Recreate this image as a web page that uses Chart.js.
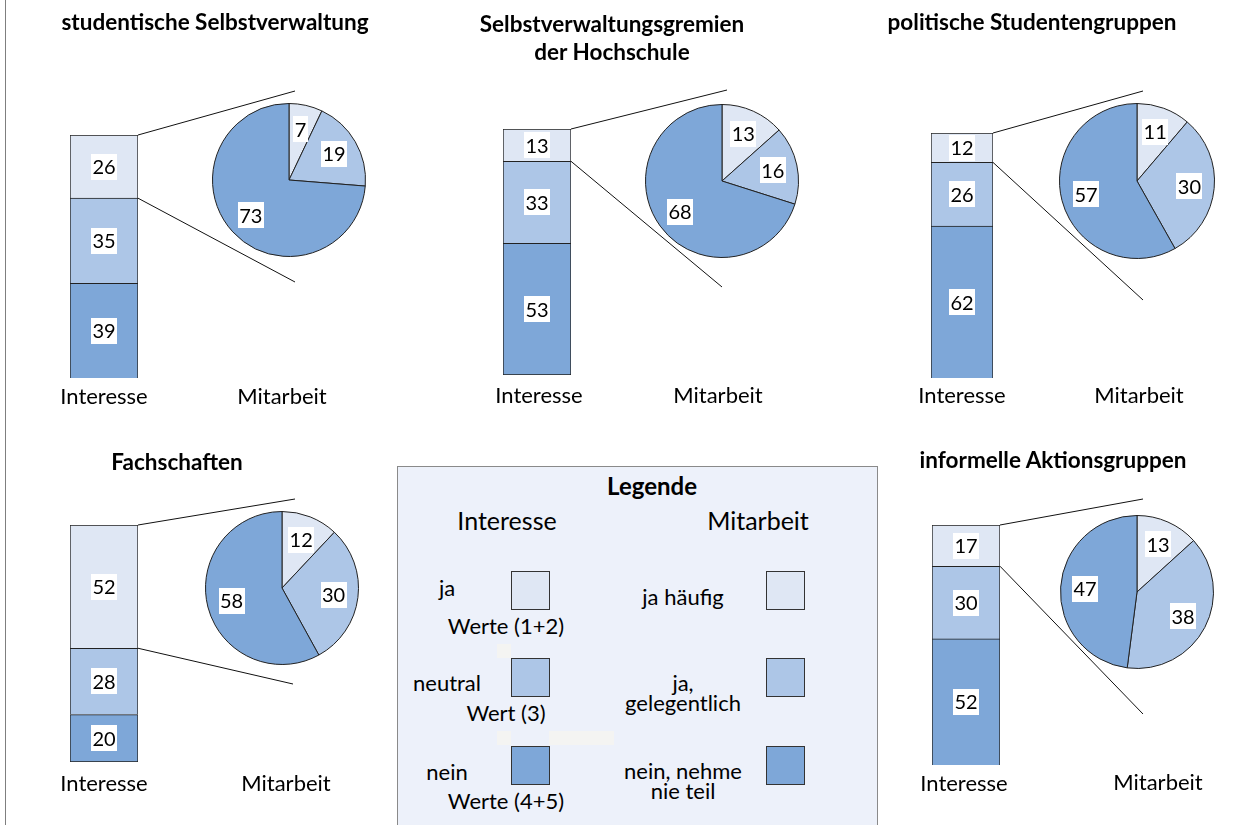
<!DOCTYPE html>
<html>
<head>
<meta charset="utf-8">
<script src="https://cdn.jsdelivr.net/npm/chart.js@4.4.0/dist/chart.umd.min.js"></script>
<style>
  body { margin: 0; width: 1259px; height: 825px; position: relative; background: #fff; overflow: hidden; font-family: Lato, sans-serif; color: #000; }
  canvas { position: absolute; }
  .txt { position: absolute; transform: translate(-50%, -50%); white-space: pre; line-height: 1.15; text-align: center; }
  .title { font-weight: bold; font-size: 22.5px; }
  .lbl { font-size: 22px; }
  .big { font-size: 25px; }
  .small { font-size: 22px; line-height: 20px; }
  #frame { position: absolute; left: 5px; top: 0; width: 1px; height: 825px; background: #7f7f7f; }
  #legend { position: absolute; left: 397px; top: 466px; width: 481px; height: 380px; background: #edf1fa; border: 1px solid #8a8a8a; box-sizing: border-box; }
  .sw { position: absolute; width: 39px; height: 39px; border: 1px solid #333; box-sizing: border-box; }
  .ghost { position: absolute; background: #f4f4f2; }
</style>
</head>
<body>
<div id="frame"></div>
<div id="legend"></div>
<canvas id="lines" width="1259" height="825" style="left:0;top:0"></canvas>

<script>
const panelTitles = ['studentische Selbstverwaltung', 'Selbstverwaltungsgremien\nder Hochschule', 'politische Studentengruppen', 'Fachschaften', 'informelle Aktionsgruppen'];
const axisLabels = ['Interesse', 'Mitarbeit'];

// Interesse (Balken), Prozent
const interesseJa = [26, 13, 12, 52, 17];
const interesseNeutral = [35, 33, 26, 28, 30];
const interesseNein = [39, 53, 62, 20, 52];

// Mitarbeit (Kreis), Prozent
const mitarbeitHaeufig = [7, 13, 11, 12, 13];
const mitarbeitGelegentlich = [19, 16, 30, 30, 38];
const mitarbeitNie = [73, 68, 57, 58, 47];

const interesseLegend = ['ja', 'neutral', 'nein'];
const interesseWerte = ['Werte (1+2)', 'Wert (3)', 'Werte (4+5)'];
const mitarbeitLegend = ['ja häufig', 'ja,\ngelegentlich', 'nein, nehme\nnie teil'];

const colors = ['#dfe7f4', '#adc6e7', '#7ea7d8'];

// where each panel sits on the page
const layout = [
    { title: [215, 22], bar: [70, 135, 68, 243], pie: [289, 180, 76], ends: [[295, 91], [295, 282]], labels: [[104, 396], [282, 396]], closed: false },
    { title: [612, 38], bar: [503, 129, 68, 246], pie: [722, 181, 76], ends: [[727, 90], [722, 287]], labels: [[539, 395], [718, 395]], closed: true },
    { title: [1032, 22], bar: [931, 133, 62, 245], pie: [1137, 181, 77], ends: [[1143, 91], [1143, 300]], labels: [[962, 395], [1139, 395]], closed: false },
    { title: [177, 462], bar: [70, 525, 68, 237], pie: [282, 588, 76], ends: [[295, 499], [293, 684]], labels: [[104, 783], [286, 783]], closed: true },
    { title: [1053, 460], bar: [932, 525, 68, 240], pie: [1137, 592, 76], ends: [[1143, 499], [1143, 714]], labels: [[964, 783], [1158, 782]], closed: false }
];

function addText(text, x, y, cls, parent) {
    const d = document.createElement('div');
    d.className = 'txt ' + cls;
    d.textContent = text;
    d.style.left = x + 'px';
    d.style.top = y + 'px';
    (parent || document.body).appendChild(d);
    return d;
}

function addCanvas(x, y, w, h) {
    const c = document.createElement('canvas');
    c.width = w;
    c.height = h;
    c.style.left = x + 'px';
    c.style.top = y + 'px';
    document.body.appendChild(c);
    return c;
}

// white boxed numbers on bars and slices
const valueLabels = {
    id: 'valueLabels',
    afterDatasetsDraw(chart) {
        const ctx = chart.ctx;
        ctx.save();
        ctx.font = '20px Lato';
        ctx.textAlign = 'center';
        ctx.textBaseline = 'middle';
        chart.data.datasets.forEach((ds, di) => {
            chart.getDatasetMeta(di).data.forEach((el, i) => {
                let x, y;
                if (chart.config.type === 'pie') {
                    const p = el.getProps(['x', 'y', 'startAngle', 'endAngle', 'outerRadius'], true);
                    const a = (p.startAngle + p.endAngle) / 2;
                    x = p.x + Math.cos(a) * p.outerRadius * 0.68;
                    y = p.y + Math.sin(a) * p.outerRadius * 0.68;
                } else {
                    const p = el.getProps(['x', 'y', 'base'], true);
                    x = p.x;
                    y = (p.y + p.base) / 2;
                }
                const t = String(ds.data[i]);
                const w = ctx.measureText(t).width + 3;
                ctx.fillStyle = '#fff';
                ctx.fillRect(Math.round(x - w / 2), Math.round(y - 13), Math.round(w), 26);
                ctx.fillStyle = '#000';
                ctx.fillText(t, x, y + 1);
            });
        });
        ctx.restore();
    }
};

const bars = [];
const pies = [];

layout.forEach((L, k) => {
    addText(panelTitles[k], L.title[0], L.title[1], 'title').style.lineHeight = '28px';
    addText(axisLabels[0], L.labels[0][0], L.labels[0][1], 'lbl');
    addText(axisLabels[1], L.labels[1][0], L.labels[1][1], 'lbl');

    const total = interesseJa[k] + interesseNeutral[k] + interesseNein[k];
    const [bx, by, bw, bh] = L.bar;
    const barCanvas = addCanvas(bx, by, bw, bh);
    bars.push(new Chart(barCanvas, {
        type: 'bar',
        data: {
            labels: [axisLabels[0]],
            datasets: [
                { label: interesseLegend[2], data: [interesseNein[k]], backgroundColor: colors[2], borderSkipped: L.closed ? false : 'start' },
                { label: interesseLegend[1], data: [interesseNeutral[k]], backgroundColor: colors[1] },
                { label: interesseLegend[0], data: [interesseJa[k]], backgroundColor: colors[0] }
            ]
        },
        options: {
            responsive: false,
            animation: false,
            events: [],
            layout: { padding: 0 },
            datasets: { bar: { barPercentage: 1, categoryPercentage: 1, borderColor: '#222', borderWidth: 1, borderSkipped: 'start' } },
            scales: {
                x: { stacked: true, display: false },
                y: { stacked: true, display: false, min: 0, max: total }
            },
            plugins: { legend: { display: false }, tooltip: { enabled: false } }
        },
        plugins: [valueLabels]
    }));

    const [cx, cy, r] = L.pie;
    const size = 2 * r + 2;
    const pieCanvas = addCanvas(cx - size / 2, cy - size / 2, size, size);
    pies.push(new Chart(pieCanvas, {
        type: 'pie',
        data: {
            labels: mitarbeitLegend,
            datasets: [{
                data: [mitarbeitHaeufig[k], mitarbeitGelegentlich[k], mitarbeitNie[k]],
                backgroundColor: colors,
                borderColor: '#222',
                borderWidth: 1,
                hoverOffset: 0
            }]
        },
        options: {
            responsive: false,
            animation: false,
            events: [],
            plugins: { legend: { display: false }, tooltip: { enabled: false } }
        },
        plugins: [valueLabels]
    }));
});

// connector lines from the "ja" segment towards the pie
const lctx = document.getElementById('lines').getContext('2d');
lctx.strokeStyle = '#111';
lctx.lineWidth = 1;
bars.forEach((chart, k) => {
    const el = chart.getDatasetMeta(2).data[0];
    const left = chart.canvas.offsetLeft;
    const top = chart.canvas.offsetTop;
    const xr = left + el.x + el.width / 2;
    const pts = [top + el.y, top + el.base];
    pts.forEach((y, j) => {
        lctx.beginPath();
        lctx.moveTo(xr, y);
        lctx.lineTo(layout[k].ends[j][0], layout[k].ends[j][1]);
        lctx.stroke();
    });
});

// legend box
const leg = document.getElementById('legend');
const ox = 397, oy = 466;
addText('Legende', 651 - ox, 485 - oy, 'title', leg).style.fontSize = '24px';
addText(axisLabels[0], 506 - ox, 519 - oy, 'big', leg);
addText(axisLabels[1], 757 - ox, 519 - oy, 'big', leg);
[[496, 643, 14, 14], [496, 730, 14, 14], [548, 730, 65, 14]].forEach(g => {
    const d = document.createElement('div');
    d.className = 'ghost';
    d.style.cssText = `left:${g[0] - ox}px;top:${g[1] - oy}px;width:${g[2]}px;height:${g[3]}px`;
    leg.appendChild(d);
});
const rowTops = [570, 657, 745];
const mainY = [587, 682, 771];
const subY = [625, 712, 800];
const rightY = [596, 692, 780];
rowTops.forEach((t, i) => {
    [510, 765].forEach(x => {
        const s = document.createElement('div');
        s.className = 'sw';
        s.style.left = (x - ox) + 'px';
        s.style.top = (t - oy) + 'px';
        s.style.background = colors[i];
        leg.appendChild(s);
    });
    addText(interesseLegend[i], 446 - ox, mainY[i] - oy, 'small', leg);
    addText(interesseWerte[i], 505 - ox, subY[i] - oy, 'small', leg);
    addText(mitarbeitLegend[i], 682 - ox, rightY[i] - oy, 'small', leg);
});
</script>
</body>
</html>
